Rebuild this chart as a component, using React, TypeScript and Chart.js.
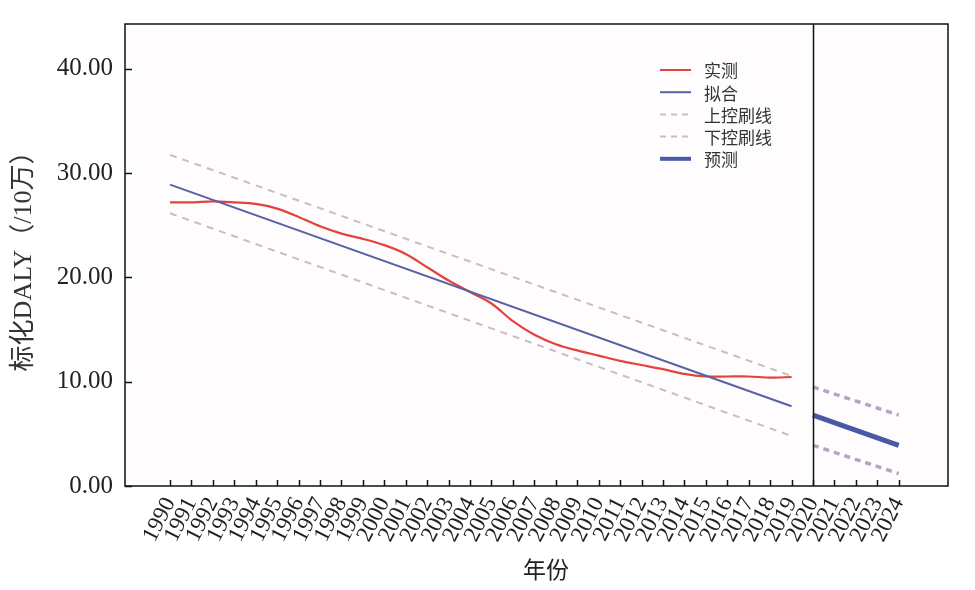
import { useEffect, useRef } from "react";
import { Chart, registerables } from "chart.js";

Chart.register(...registerables);

const allYears = [1990, 1991, 1992, 1993, 1994, 1995, 1996, 1997, 1998, 1999, 2000, 2001, 2002, 2003, 2004, 2005, 2006, 2007, 2008, 2009, 2010, 2011, 2012, 2013, 2014, 2015, 2016, 2017, 2018, 2019, 2020, 2021, 2022, 2023, 2024];
const measuredYears = [1990, 1991, 1992, 1993, 1994, 1995, 1996, 1997, 1998, 1999, 2000, 2001, 2002, 2003, 2004, 2005, 2006, 2007, 2008, 2009, 2010, 2011, 2012, 2013, 2014, 2015, 2016, 2017, 2018, 2019];
const measuredValues = [27.2, 27.2, 27.3, 27.2, 27.05, 26.6, 25.8, 24.9, 24.2, 23.7, 23.1, 22.25, 20.98, 19.7, 18.6, 17.5, 15.8, 14.5, 13.6, 13.0, 12.5, 12.0, 11.6, 11.2, 10.75, 10.5, 10.5, 10.5, 10.4, 10.45];
const fitYears = [1990, 2019];
const fitValues = [28.9, 7.65];
const upperValues = [31.75, 10.55];
const lowerValues = [26.15, 4.8];
const predYears = [2020, 2024];
const predValues = [6.8, 3.9];
const predUpper = [9.5, 6.8];
const predLower = [3.9, 1.2];
const yTicks = [0, 10, 20, 30, 40];
const legendItems = ["实测", "拟合", "上控刷线", "下控刷线", "预测"];

const RED = "#e3433c";
const BLUE = "#5661a6";
const DASH = "#cbbcc3";
const PRED = "#4859a6";
const PRED_DASH = "#b8a3c3";
const SERIF = '"Liberation Serif", "Times New Roman", "Noto Sans CJK SC", serif';
const CJK = '"Noto Sans CJK SC", "Liberation Serif", sans-serif';

const pts = (xs: number[], ys: number[]) => xs.map((x, i) => ({ x, y: ys[i] }));

const decorPlugin = {
  id: "decor",
  beforeDraw(chart: any) {
    const { ctx, chartArea: a } = chart;
    ctx.save();
    ctx.fillStyle = "#fefcfc";
    ctx.fillRect(a.left, a.top, a.right - a.left, a.bottom - a.top);
    ctx.restore();
  },
  afterDraw(chart: any) {
    const { ctx, chartArea: a, scales } = chart;
    const xs = scales.x;
    const ys = scales.y;
    ctx.save();
    ctx.strokeStyle = "#111";
    ctx.lineWidth = 1.5;
    ctx.beginPath();
    allYears.forEach((yr) => {
      const px = Math.round(xs.getPixelForValue(yr)) + 0.5;
      ctx.moveTo(px, a.bottom);
      ctx.lineTo(px, a.bottom - 6);
    });
    yTicks.forEach((v) => {
      const py = Math.round(ys.getPixelForValue(v)) + 0.5;
      ctx.moveTo(a.left, py);
      ctx.lineTo(a.left + 7, py);
    });
    ctx.stroke();
    const sx = Math.round(xs.getPixelForValue(2020)) + 0.5;
    ctx.beginPath();
    ctx.moveTo(sx, a.top);
    ctx.lineTo(sx, a.bottom);
    ctx.stroke();
    ctx.strokeRect(a.left, a.top, a.right - a.left, a.bottom - a.top);

    ctx.fillStyle = "#222";
    ctx.font = `23px ${CJK}`;
    ctx.textAlign = "center";
    ctx.textBaseline = "middle";
    ctx.fillText("年份", 538, 561);

    const lx = a.left + 535;
    const ly0 = a.top + 46;
    const gap = 22.2;
    const styles = [
      { c: RED, w: 2, d: [] as number[] },
      { c: BLUE, w: 2, d: [] as number[] },
      { c: DASH, w: 2, d: [6, 5] },
      { c: DASH, w: 2, d: [6, 5] },
      { c: PRED, w: 4, d: [] as number[] },
    ];
    ctx.textAlign = "left";
    ctx.font = `17px ${CJK}`;
    legendItems.forEach((t, i) => {
      const y = ly0 + i * gap;
      const s = styles[i];
      ctx.beginPath();
      ctx.setLineDash(s.d);
      ctx.strokeStyle = s.c;
      ctx.lineWidth = s.w;
      ctx.moveTo(lx, y);
      ctx.lineTo(lx + 31, y);
      ctx.stroke();
      ctx.setLineDash([]);
      ctx.fillStyle = "#333";
      ctx.fillText(t, lx + 44, y + 1);
    });
    ctx.restore();
  },
};

export default function App() {
  const ref = useRef<HTMLCanvasElement | null>(null);
  useEffect(() => {
    if (!ref.current) return;
    const line = (label: string, data: any[], color: string, width: number, dash: number[] = [], tension = 0) => ({
      label,
      data,
      borderColor: color,
      backgroundColor: color,
      borderWidth: width,
      borderDash: dash,
      pointRadius: 0,
      fill: false,
      tension,
    });
    const chart = new Chart(ref.current, {
      type: "line",
      data: {
        datasets: [
          line("上控刷线", pts(fitYears, upperValues), DASH, 2, [7, 6]),
          line("下控刷线", pts(fitYears, lowerValues), DASH, 2, [7, 6]),
          line("预测上限", pts(predYears, predUpper), PRED_DASH, 3.5, [6, 5]),
          line("预测下限", pts(predYears, predLower), PRED_DASH, 3.5, [6, 5]),
          line("拟合", pts(fitYears, fitValues), BLUE, 2),
          line("预测", pts(predYears, predValues), PRED, 5),
          line("实测", pts(measuredYears, measuredValues), RED, 2.2, [], 0.3),
        ] as any,
      },
      options: {
        responsive: false,
        animation: false,
        layout: { padding: { top: 16, right: 19, left: 0, bottom: 0 } },
        plugins: { legend: { display: false }, tooltip: { enabled: false } },
        scales: {
          x: {
            type: "linear",
            min: 1987.9,
            max: 2026.3,
            afterBuildTicks: (s: any) => {
              s.ticks = allYears.map((v) => ({ value: v }));
            },
            afterFit: (s: any) => {
              s.height = 96;
              s.paddingLeft = 0;
              s.paddingRight = 0;
            },
            grid: { display: false, drawTicks: false },
            border: { display: false },
            ticks: {
              autoSkip: false,
              minRotation: 63,
              maxRotation: 63,
              padding: 7,
              color: "#222",
              font: { family: SERIF, size: 23 },
              callback: (v: any) => String(v),
            },
          },
          y: {
            type: "linear",
            min: 0,
            max: 44.3,
            afterBuildTicks: (s: any) => {
              s.ticks = yTicks.map((v) => ({ value: v }));
            },
            afterFit: (s: any) => {
              s.width = 117;
              s.paddingTop = 0;
              s.paddingBottom = 0;
            },
            grid: { display: false, drawTicks: false },
            border: { display: false },
            title: {
              display: true,
              text: "标化DALY（/10万）",
              color: "#333",
              font: { family: SERIF, size: 26 },
              padding: { top: 1, bottom: 0 },
            },
            ticks: {
              padding: 12,
              color: "#222",
              font: { family: SERIF, size: 25 },
              callback: (v: any) => Number(v).toFixed(2),
            },
          },
        },
      } as any,
      plugins: [decorPlugin],
    });
    return () => chart.destroy();
  }, []);
  return (
    <div style={{ width: 959, height: 574 }}>
      <canvas ref={ref} width={959} height={574} style={{ display: "block" }} />
    </div>
  );
}
